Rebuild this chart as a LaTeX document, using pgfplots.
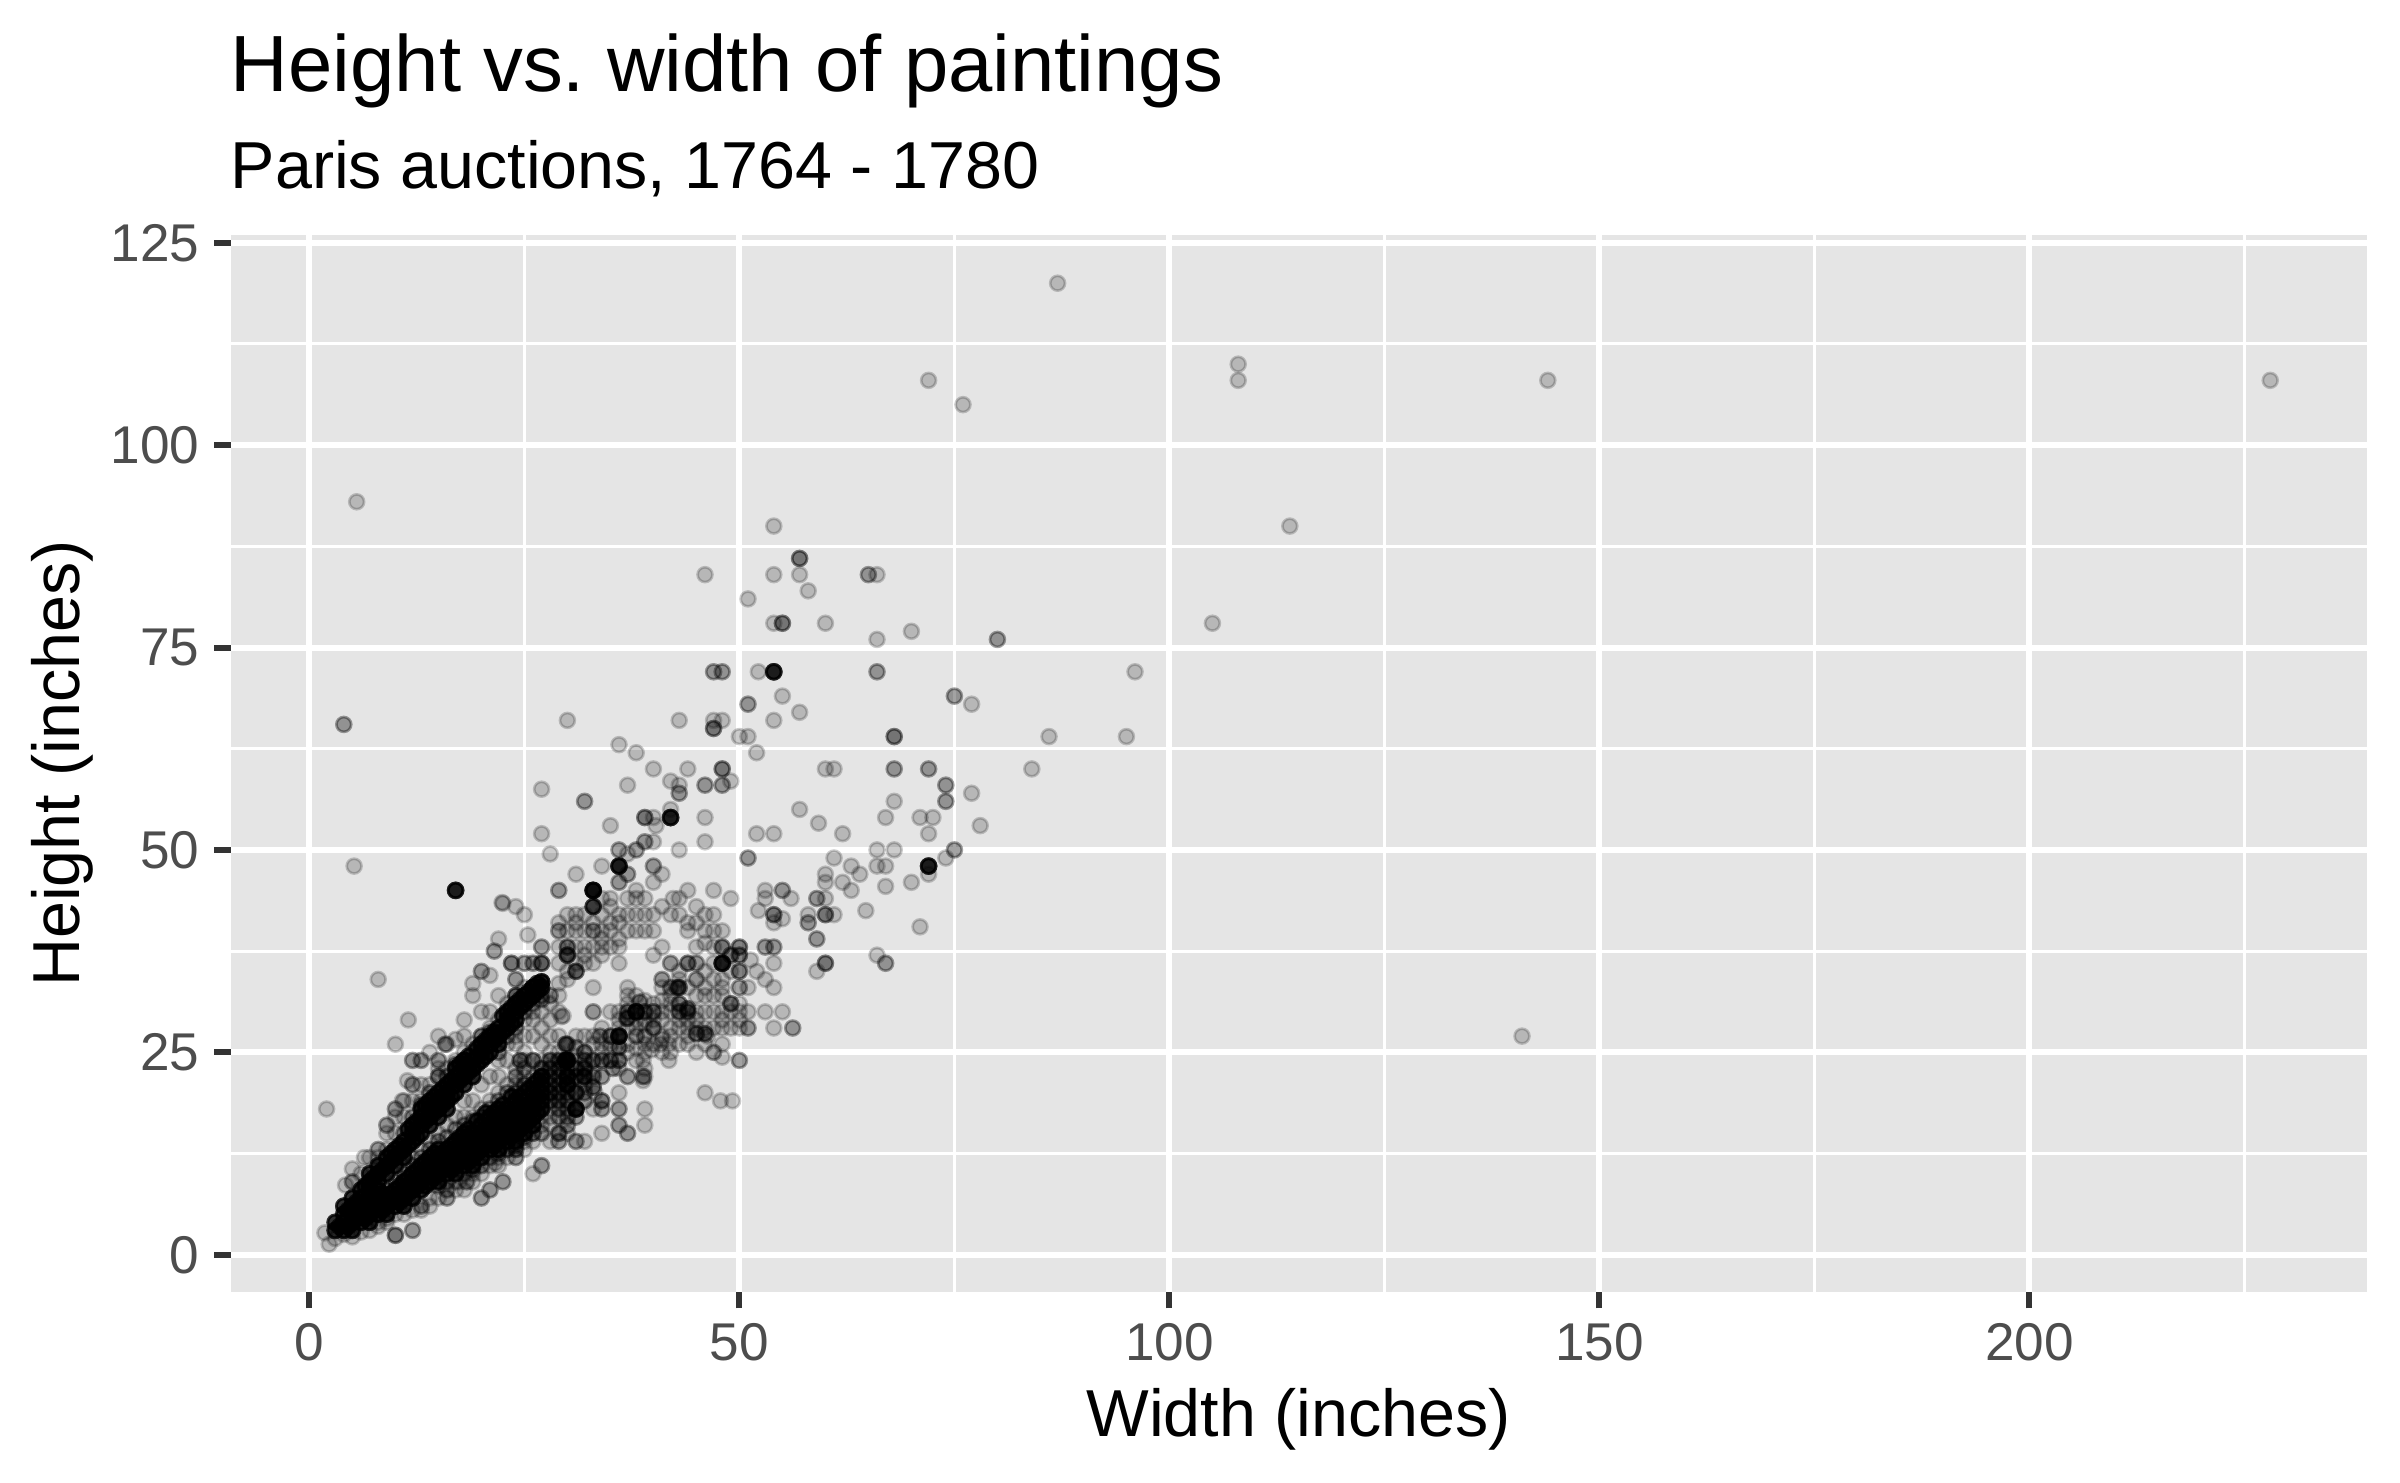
\documentclass[border=0pt]{standalone}
\usepackage{fontspec}
\setmainfont{Liberation Sans}
\usepackage{pgfplots}
\usepackage{pgfplotstable}
\pgfplotsset{compat=1.18}
\frenchspacing
\definecolor{panel}{HTML}{E5E5E5}
\definecolor{tickc}{HTML}{333333}
\definecolor{labc}{HTML}{4D4D4D}
% single paintings
\pgfplotstableread[row sep=\\]{x y\\
87 120\\ 72 108\\ 76 105\\ 108 110\\ 108 108\\ 144 108\\ 228 108\\ 5.5 93\\ 114 90\\ 105 78\\ 96 72\\ 95 64\\ 86 64\\ 84 60\\ 141 27\\ 5.2 48\\ 8 34\\ 2 18\\
54 90\\ 46 84\\ 54 84\\ 57 84\\ 66 84\\ 58 82\\ 51 81\\ 54 78\\ 60 78\\ 70 77\\ 66 76\\ 52.2 72\\ 55 69\\ 77 68\\ 57 67\\ 30 66\\ 43 66\\ 54 66\\ 47 66\\ 48 66\\ 50 64\\ 51 64\\ 36 63\\ 38 62\\ 52 62\\ 40 60\\ 44 60\\ 60 60\\ 61 60\\ 27 57.5\\ 37 58\\ 42 58.5\\ 43 58\\ 49 58.5\\ 77 57\\ 68 56\\ 57 55\\ 42 55\\ 67 54\\ 71 54\\ 72.5 54\\ 46 54\\ 40 54\\ 40.3 53\\ 35 53\\ 59.2 53.3\\ 27 52\\ 52 52\\ 54 52\\ 62 52\\ 72 52\\ 78 53\\ 40 51\\ 46 51\\ 37 49.5\\ 43 50\\ 66 50\\ 68 50\\ 28 49.5\\ 61 49\\ 74 49\\ 34 48\\ 63 48\\ 66 48\\ 67 48\\ 72 47\\ 41 47\\ 31 47\\ 60 47\\ 64 47\\ 40 46\\ 60 46\\ 62 46\\ 38 45\\ 44 45\\ 47 45\\ 53 45\\ 63 45\\ 67 45.5\\ 70 46\\ 42.3 44\\ 49 44\\ 38 44\\ 53 44\\ 56 44\\ 60 44\\ 22.4 43.5\\ 24 43\\ 25 42\\ 35 43\\ 46 42\\ 52.2 42.5\\ 55 41.5\\ 58 42\\ 61 42\\ 64.7 42.5\\ 54 41\\ 45 41\\ 46 40\\ 31 40\\ 35 40\\ 36 41\\ 39 40\\ 48 40\\ 71 40.5\\ 25.4 39.5\\ 22 39\\ 34 38\\ 41 38\\ 46 38.5\\ 36 39\\ 66 37\\ 59 35\\ 54 36\\ 36 36\\ 32 37\\ 34 37\\ 40 37\\ 33 36\\ 29 36\\ 52 35\\ 54 33\\ 53 34\\ 51.3 36.4\\ 47 34\\ 48 34\\ 37 33\\ 33 33\\ 30 34\\ 29 32\\ 38 32\\ 46 33\\ 47 32\\ 48 32\\ 50 31\\ 46 32\\ 37 32\\ 39 31.4\\ 41 31.4\\ 48 33\\ 53 30\\ 55 30\\ 54 28\\ 48 29\\ 42 28\\ 36 30\\ 35 30\\ 41 30\\ 45 30\\ 46 30\\ 29.5 29.5\\ 29.3 29.4\\ 28 29\\ 26 30\\ 42 30\\ 44 27\\ 46.3 27\\ 33 27\\ 32 27\\ 31 27\\ 40.8 26\\ 41.8 26\\ 41 26.6\\ 39 25\\ 39.8 25.3\\ 38.8 24\\ 41.8 24\\ 48 24.4\\ 46 20\\ 47.8 19\\ 49.2 19\\ 39 22\\ 38.8 21.5\\ 33.2 20\\ 36 20\\ 33 18\\ 39 18\\ 39 16\\ 34 15\\ 31 14\\ 32 14\\ 21.6 11.3\\ 26 10\\
4.2 8.6\\ 5 10.6\\ 6 10\\ 6.4 12\\ 7 12\\ 8 12\\ 9 13\\ 9 15\\ 10 15\\ 10 17\\ 10.8 19\\ 11 17\\ 11 19\\ 11.4 21.5\\ 12 19\\ 13 19\\ 13 21\\ 14 21\\ 15 22\\ 15 23\\ 16 23\\ 17 24\\ 18 25\\ 19 26\\ 20 27\\ 21 28\\ 22 29\\ 23 31\\ 24 32\\ 25 33\\ 20 30\\ 21 30\\ 22 32\\ 18 27\\ 16 26\\ 15 27\\ 14 25\\ 17 26.6\\ 18 29\\ 11.5 29\\ 10 26\\ 19 32\\ 19 33.5\\ 21 34.5\\ 22.5 43.4\\
12 12\\ 13 13\\ 14 14\\ 15 15\\ 16 16\\ 17 17\\ 18 17\\ 18 19\\ 19 17\\ 19 19\\ 20 18\\ 20 21\\ 21 19\\ 21 22\\ 22 20\\ 22 22\\ 22 24\\ 23 21\\ 23 24\\ 23 26\\ 24 21\\ 24 23\\ 24 26\\ 24 27\\ 25 22\\ 25 24\\ 25 25\\ 25 27\\ 25 29\\ 26 22\\ 26 27\\ 26 29\\ 27 24\\ 27 26\\ 27 28\\ 27 30\\ 28 25\\ 28 27\\ 28 31\\ 29 25\\ 29 27\\ 29 30\\ 28 20\\ 28 18\\
3 2\\ 2.3 1.3\\ 1.8 2.7\\ 4 2.5\\ 5 2.2\\ 6 2.8\\ 9 4\\ 7 3\\ 8 3.5\\ 8 4\\ 9 4.5\\ 10 5\\ 11 5\\ 12 5.5\\ 13 5.5\\ 14 6\\ 14 7\\ 15 7\\ 17 8\\ 17 9\\ 18 8\\ 17.4 9\\ 19 9\\ 19 10\\ 20 10\\ 21 11\\ 22 11\\ 22 12\\ 23 12\\ 23 13\\ 25 13\\ 25 14\\ 26 14\\ 27 16\\ 27 17\\ 28 14\\ 28 16\\ 28 17\\ 31 14\\ 30 15\\
31 24.5\\ 32 23\\ 33 26\\ 33 22.5\\ 34 26\\ 34 25\\ 34 28\\ 35 25.5\\ 35 26\\ 36 28\\ 36 29\\ 36 23\\ 37 25\\ 37 26\\ 37 28\\ 37 31\\ 38 24\\ 38 25.5\\ 38 28\\ 38 29\\ 39 23\\ 39 26\\ 39 28.5\\ 39 29\\ 40 26\\ 40 29\\ 40 31\\ 41 25\\ 41 27\\ 41 29\\ 41 33\\ 42 25\\ 42 27\\ 42 31\\ 42 32\\ 43 26\\ 43 28\\ 43 29\\ 43 34\\ 43 35\\ 44 26\\ 44 28\\ 44 29\\ 44 33\\ 45 25\\ 45 28\\ 45 29\\ 45 32\\ 45 38\\ 46 26\\ 46 28\\ 46 35\\ 47 28\\ 47 30\\ 47 36\\ 47 38\\ 48 26\\ 48 28\\ 48 30\\ 49 28\\ 49 30\\ 49 35\\ 50 28\\ 50 29\\ 50 30\\ 51 33\\ 51 30\\
29 33.5\\ 29 38\\ 29 41\\ 30 35\\ 30 40\\ 30 42\\ 31 36\\ 31 38\\ 31 41\\ 31 42\\ 32 36\\ 32 38\\ 32 40\\ 32 42\\ 33 38\\ 33 41\\ 34 39\\ 34 40\\ 34 42\\ 34 44\\ 35 38\\ 35 41\\ 35 44\\ 36 38\\ 36 42\\ 37 40\\ 37 42\\ 37 44\\ 38 40\\ 38 42\\ 39 42\\ 39 44\\ 40 40\\ 40 42\\ 41 43\\ 42 42\\ 43 42\\ 43 44\\ 44 40\\ 44 41\\ 45 43\\ 47 40\\ 47 42\\
}\Tone
% two at the same place
\pgfplotstableread[row sep=\\]{x y\\
4 65.5\\ 65 84\\ 80 76\\ 47 72\\ 48 72\\ 66 72\\ 75 69\\ 51 68\\ 68 60\\ 72 60\\ 43 57\\ 46 58\\ 48 58\\ 74 58\\ 74 56\\ 32 56\\ 39 51\\ 36 50\\ 38 50\\ 75 50\\ 51 49\\ 40 48\\ 37 47\\ 36 46\\ 29 45\\ 55 45\\ 59 44\\ 58 41\\ 29 40\\ 33 40\\ 59 39\\ 27 38\\ 53 38\\ 54 38\\ 67 36\\ 42 36\\ 45 36\\ 25 36\\ 27 36\\ 31 35\\ 50 33\\ 41 34\\ 45 34\\ 24 34\\ 42 33\\ 33 30\\ 51 28\\ 56.2 28\\ 47 25\\ 50 24\\ 38 27\\ 39 27\\ 37 29.2\\ 33.8 27\\ 30 26\\ 31 25.6\\ 30 37\\ 31 35\\ 35.3 23\\ 37 22\\ 38.8 22\\ 34 18\\ 36 18\\ 36 16\\ 37 15\\ 31 17\\ 29 14\\ 27 11\\ 22.5 9\\ 21 8\\ 20 7\\ 24 12\\ 27 15\\ 16 7\\ 16 8\\ 18.3 9\\ 13 6\\ 12 3\\ 21.5 37.5\\ 20 35\\ 26 36\\ 27 36\\ 18 24\\ 8 13\\ 9 16\\ 10 18\\ 12 21\\ 12 24\\ 13 24\\ 15 24\\ 15.8 26\\ 15 22\\ 5 9\\ 38.4 31.2\\ 36.9 29.2\\
29 17\\ 29 18\\ 30 16\\ 30 17\\ 30 18\\ 32 19\\ 32 20\\ 32 21\\ 33 22\\ 34 22\\ 31 20\\ 25 23\\ 24 22\\ 23 20\\ 22 19\\ 26 20.5\\ 11 15\\ 12 17\\ 13 18.5\\ 14 20\\ 16 22\\ 17 23.5\\ 19 25\\ 20 27\\ 21 27.5\\ 22 25\\ 23 27\\ 24 28\\ 25 30\\ 26 31\\ 27 31.5\\ 27 32\\ 28 32\\ 9 8\\ 10 9\\ 11 10\\ 12 11\\ 13 12\\ 14 13\\ 15 14\\ 16 14.5\\ 17 15.5\\ 18 16\\ 19 16.5\\ 20 17\\ 21 18\\ 15 8.5\\ 16 9\\ 18 10\\ 19 10.5\\ 20 11\\ 21 12\\ 22 12.5\\ 23 13\\ 24 13.5\\ 25 14.5\\
}\Ttwo
% three or four at the same place
\pgfplotstableread[row sep=\\]{x y\\
57 86\\ 55 78\\ 47 65\\ 68 64\\ 48 60\\ 39 54\\ 33 45\\ 33 43\\ 60 42\\ 54 42\\ 33 43\\ 30 38\\ 48 38\\ 50 38\\ 49 37\\ 50 37\\ 30 37\\ 44 36\\ 23.5 36\\ 50 35\\ 43 33\\ 26 33\\ 24 32\\ 10 2.4\\ 37 30\\ 39 30\\ 40 30\\ 43 30\\ 44 30\\ 43 31\\ 44 30.4\\ 40 28\\ 35 27\\ 32 25\\ 36 25.6\\ 45 27.3\\ 46 27.3\\ 32 24\\ 33 24\\ 34 24\\ 35 24\\ 36 24\\ 28 24\\ 24.5 24\\ 26 24\\ 32 22\\ 34 19\\ 31.9 22\\ 29 15\\ 24 13\\ 26 15\\ 33 20.7\\ 42.8 33\\ 49 31\\ 60 36\\ 29.8 26\\
24 20\\ 25 19\\ 25 20\\ 25 21\\ 26 20\\ 26 21\\ 27 23\\ 28 19\\ 28 20\\ 28 21\\ 28 22\\ 28 23\\ 29 19\\ 29 20\\ 29 21\\ 29 22\\ 29 23\\ 29 24\\ 30 19\\ 30 20\\ 30 23\\ 31 20\\ 31 22\\ 31 23\\ 32 23\\
}\Tthree
% many at the same place
\pgfplotstableread[row sep=\\]{x y\\
17 45\\ 36 48\\ 72 48\\ 48 36\\ 54 72\\ 42 54\\ 33 45\\ 36 27\\ 30 24\\ 38 30\\ 31 18\\ 30 21\\ 27 33.7\\ 27 22\\ 30 22\\ 29.8 24\\
}\Tmany
% the two dense bands of portrait and landscape formats
\pgfplotstableread[row sep=\\]{x y\\
3 3\\ 3 4\\
4 3\\ 4 4\\ 4 5\\ 4 6\\
5 3\\ 5 4\\ 5 5\\ 5 6\\ 5 7\\
6 4\\ 6 5\\ 6 6\\ 6 7\\ 6 8\\
7 4\\ 7 5\\ 7 6\\ 7 7\\ 7 8\\ 7 9\\ 7 10\\
8 5\\ 8 6\\ 8 7\\ 8 8\\ 8 9\\ 8 10\\ 8 11\\
9 5\\ 9 6\\ 9 7\\ 9 10\\ 9 11\\ 9 12\\
10 6\\ 10 7\\ 10 8\\ 10 11\\ 10 12\\ 10 13\\
11 6\\ 11 7\\ 11 8\\ 11 9\\ 11 12\\ 11 13\\ 11 14\\
12 7\\ 12 8\\ 12 9\\ 12 10\\ 12 14\\ 12 15\\ 12 16\\
13 8\\ 13 9\\ 13 10\\ 13 11\\ 13 15\\ 13 16\\ 13 17\\ 13 18\\
14 9\\ 14 10\\ 14 11\\ 14 12\\ 14 16\\ 14 17\\ 14 18\\ 14 19\\
15 9\\ 15 10\\ 15 11\\ 15 12\\ 15 13\\ 15 17\\ 15 18\\ 15 19\\ 15 20\\
16 10\\ 16 11\\ 16 12\\ 16 13\\ 16 18\\ 16 19\\ 16 20\\ 16 21\\
17 10\\ 17 11\\ 17 12\\ 17 13\\ 17 14\\ 17 20\\ 17 21\\ 17 22\\ 17 23\\
18 11\\ 18 12\\ 18 13\\ 18 14\\ 18 15\\ 18 21\\ 18 22\\ 18 23\\ 18 24\\
19 11\\ 19 12\\ 19 13\\ 19 14\\ 19 15\\ 19 22\\ 19 23\\ 19 24\\
20 12\\ 20 13\\ 20 14\\ 20 15\\ 20 16\\ 20 24\\ 20 25\\ 20 26\\
21 13\\ 21 14\\ 21 15\\ 21 16\\ 21 17\\ 21 25\\ 21 26\\ 21 27\\
22 13\\ 22 14\\ 22 15\\ 22 16\\ 22 17\\ 22 18\\ 22 26\\ 22 27\\ 22 28\\
23 14\\ 23 15\\ 23 16\\ 23 17\\ 23 18\\ 23 28\\ 23 29\\ 23 30\\
24 14\\ 24 15\\ 24 16\\ 24 17\\ 24 18\\ 24 19\\ 24 29\\ 24 30\\ 24 31\\
25 15\\ 25 16\\ 25 17\\ 25 18\\ 25 31\\ 25 32\\
26 16\\ 26 17\\ 26 18\\ 26 19\\ 26 32\\ 26 33\\
27 18\\ 27 19\\ 27 20\\ 27 21\\ 27 33\\
}\Tband
% the same bands, sizes between the whole inches
\pgfplotstableread[row sep=\\]{x y\\
3.5 3.5\\ 4.5 3.5\\ 4.5 5.5\\ 5.5 4.5\\ 5.5 6.5\\ 6.5 4.5\\ 6.5 6.5\\ 6.5 8.5\\ 7.5 5.5\\ 7.5 7.5\\ 7.5 9.5\\ 8.5 5.5\\ 8.5 7.5\\ 8.5 10.5\\ 9.5 6.5\\ 9.5 7.5\\ 9.5 11.5\\ 9.5 12.5\\ 10.5 6.5\\ 10.5 8.5\\ 10.5 12.5\\ 10.5 13.5\\
11.5 7.5\\ 11.5 9.5\\ 11.5 13.5\\ 11.5 15.5\\ 12.5 8.5\\ 12.5 9.5\\ 12.5 10.5\\ 12.5 14.5\\ 12.5 16.5\\ 13.5 8.5\\ 13.5 10.5\\ 13.5 11.5\\ 13.5 16.5\\ 13.5 18.5\\ 14.5 9.5\\ 14.5 11.5\\ 14.5 12.5\\ 14.5 17.5\\ 14.5 19.5\\ 15.5 10.5\\ 15.5 12.5\\ 15.5 18.5\\ 15.5 20.5\\ 16.5 10.5\\ 16.5 12.5\\ 16.5 13.5\\ 16.5 19.5\\ 16.5 21.5\\
17.5 11.5\\ 17.5 13.5\\ 17.5 14.5\\ 17.5 21.5\\ 17.5 23.5\\ 18.5 11.5\\ 18.5 13.5\\ 18.5 15.5\\ 18.5 22.5\\ 18.5 24.5\\ 19.5 12.5\\ 19.5 14.5\\ 19.5 16.5\\ 19.5 23.5\\ 19.5 25.5\\ 20.5 13.5\\ 20.5 15.5\\ 20.5 17.5\\ 20.5 24.5\\ 20.5 26.5\\ 21.5 13.5\\ 21.5 15.5\\ 21.5 17.5\\ 21.5 26.5\\ 21.5 27.5\\ 22.5 14.5\\ 22.5 16.5\\ 22.5 18.5\\ 22.5 27.5\\ 22.5 29.5\\ 23.5 15.5\\ 23.5 17.5\\ 23.5 19.5\\ 23.5 28.5\\ 23.5 30.5\\ 24.5 15.5\\ 24.5 17.5\\ 24.5 19.5\\ 24.5 30.5\\ 24.5 31.5\\ 25.5 16.5\\ 25.5 18.5\\ 25.5 20.5\\ 25.5 31.5\\ 25.5 32.5\\ 26.5 17.5\\ 26.5 19.5\\ 26.5 21.5\\ 26.5 32.5\\ 26.5 33.5\\
}\Thalf
\newcommand\layer[1]{\addplot[pts] table {#1};}
\newcommand\fs[1]{\fontsize{#1}{#1}\selectfont}
\begin{document}
\begin{tikzpicture}
\path[use as bounding box] (0bp,0bp) rectangle (576bp,355.92bp);
\begin{axis}[
  at={(55.37bp,45.91bp)}, anchor=south west,
  scale only axis, width=512.6bp, height=253.6bp,
  xmin=-9.15, xmax=239.2, ymin=-4.57, ymax=125.95,
  axis background/.style={fill=panel},
  axis line style={draw=none},
  xtick={0,50,100,150,200}, ytick={0,25,50,75,100,125},
  minor xtick={25,75,125,175,225}, minor ytick={12.5,37.5,62.5,87.5,112.5},
  xmajorgrids, ymajorgrids, xminorgrids, yminorgrids,
  major grid style={white, line width=1.44bp},
  minor grid style={white, line width=0.72bp},
  tick align=outside, xtick pos=bottom, ytick pos=left,
  major tick length=4bp, minor tick length=0pt,
  major tick style={color=tickc, line width=1.44bp},
  minor tick style={draw=none},
  tick label style={font=\fs{12.8}, text=labc},
  /pgf/number format/assume math mode=true,
  xlabel={Width (inches)}, ylabel={Height (inches)},
  label style={font=\fs{16}, text=black},
  xlabel style={at={(axis description cs:0.5,0)}, anchor=base, yshift=-34.63bp},
  ylabel style={at={(axis description cs:0,0.5)}, anchor=base, yshift=36.17bp},
  pts/.style={only marks, mark=*, mark size=1.78bp,
    mark options={fill=black, draw=black, fill opacity=0.2, draw opacity=0.2, line width=0.65bp}},
]
\layer{\Tone}
\layer{\Ttwo}\layer{\Ttwo}
\layer{\Tthree}\layer{\Tthree}\layer{\Tthree}
\layer{\Tmany}\layer{\Tmany}\layer{\Tmany}\layer{\Tmany}\layer{\Tmany}\layer{\Tmany}\layer{\Tmany}\layer{\Tmany}\layer{\Tmany}
\layer{\Thalf}\layer{\Thalf}\layer{\Thalf}\layer{\Thalf}\layer{\Thalf}\layer{\Thalf}
\layer{\Tband}\layer{\Tband}\layer{\Tband}\layer{\Tband}\layer{\Tband}\layer{\Tband}\layer{\Tband}
\end{axis}
\node[anchor=base west, inner sep=0pt, font=\fs{19.2}] at (55.2bp,333.92bp) {Height vs. width of paintings};
\node[anchor=base west, inner sep=0pt, font=\fs{16}] at (55.2bp,310.56bp) {Paris auctions, 1764 - 1780};
\end{tikzpicture}
\end{document}
